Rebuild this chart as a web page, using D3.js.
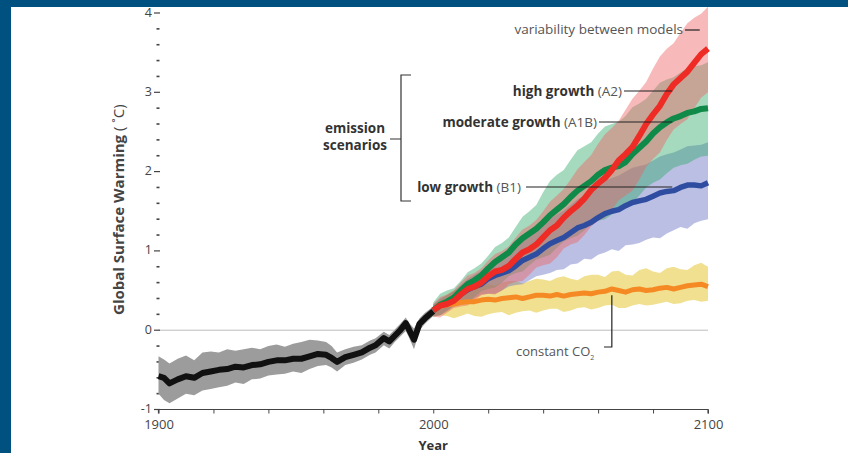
<!DOCTYPE html>
<html>
<head>
<meta charset="utf-8">
<script src="https://cdn.jsdelivr.net/npm/d3@7"></script>
<style>
    body { margin: 0; background: #fff; }
    text { font-family: "Open Sans", sans-serif; }
</style>
</head>
<body>
<div id="warming"></div>
<script>
// observed record 1900-2000
let histYears = [1900, 1902, 1904, 1907, 1910, 1913, 1916, 1919, 1922, 1925, 1928, 1931, 1934, 1937, 1940, 1943, 1946, 1949, 1952, 1955, 1958, 1961, 1963, 1965, 1968, 1971, 1974, 1977, 1979, 1982, 1984, 1986, 1988, 1990, 1991, 1993, 1995, 1997, 2000];
let histMean = [-0.58, -0.60, -0.67, -0.62, -0.58, -0.60, -0.54, -0.52, -0.50, -0.49, -0.46, -0.47, -0.44, -0.43, -0.40, -0.38, -0.38, -0.36, -0.36, -0.33, -0.30, -0.31, -0.35, -0.40, -0.34, -0.31, -0.28, -0.22, -0.19, -0.10, -0.14, -0.07, 0.00, 0.09, 0.02, -0.12, 0.08, 0.15, 0.24];
let histLo = [-0.80, -0.88, -0.92, -0.86, -0.80, -0.82, -0.76, -0.74, -0.72, -0.70, -0.66, -0.68, -0.62, -0.61, -0.57, -0.56, -0.55, -0.52, -0.54, -0.49, -0.45, -0.44, -0.47, -0.52, -0.44, -0.41, -0.37, -0.31, -0.28, -0.19, -0.23, -0.15, -0.08, -0.01, -0.08, -0.24, 0.00, 0.08, 0.18];
let histHi = [-0.33, -0.37, -0.42, -0.36, -0.32, -0.38, -0.28, -0.27, -0.28, -0.24, -0.26, -0.24, -0.22, -0.24, -0.20, -0.18, -0.21, -0.17, -0.15, -0.12, -0.13, -0.15, -0.20, -0.28, -0.24, -0.21, -0.19, -0.13, -0.10, -0.02, -0.06, 0.01, 0.08, 0.16, 0.10, 0.02, 0.15, 0.22, 0.30];

// scenario projections 2000-2100
let projYears = [2000, 2002.5, 2005, 2007.5, 2010, 2012.5, 2015, 2017.5, 2020, 2022.5, 2025, 2027.5, 2030, 2032.5, 2035, 2037.5, 2040, 2042.5, 2045, 2047.5, 2050, 2052.5, 2055, 2057.5, 2060, 2062.5, 2065, 2067.5, 2070, 2072.5, 2075, 2077.5, 2080, 2082.5, 2085, 2087.5, 2090, 2092.5, 2095, 2097.5, 2100];

let a2Mean = [0.25, 0.31, 0.33, 0.37, 0.45, 0.52, 0.55, 0.60, 0.68, 0.74, 0.76, 0.81, 0.90, 0.98, 1.02, 1.08, 1.17, 1.26, 1.32, 1.42, 1.50, 1.57, 1.66, 1.77, 1.85, 1.92, 2.02, 2.14, 2.22, 2.31, 2.45, 2.60, 2.72, 2.83, 2.98, 3.10, 3.18, 3.26, 3.37, 3.48, 3.55];
let a2Lo = [0.17, 0.16, 0.22, 0.28, 0.30, 0.31, 0.37, 0.44, 0.46, 0.45, 0.50, 0.58, 0.61, 0.62, 0.70, 0.79, 0.82, 0.84, 0.92, 1.03, 1.08, 1.11, 1.20, 1.31, 1.38, 1.42, 1.52, 1.64, 1.70, 1.76, 1.90, 2.06, 2.16, 2.24, 2.40, 2.53, 2.60, 2.66, 2.80, 2.93, 3.00];
let a2Hi = [0.33, 0.42, 0.45, 0.50, 0.60, 0.69, 0.72, 0.78, 0.88, 0.96, 1.00, 1.06, 1.17, 1.27, 1.32, 1.39, 1.50, 1.62, 1.70, 1.78, 1.90, 2.03, 2.12, 2.21, 2.35, 2.47, 2.55, 2.64, 2.78, 2.92, 3.02, 3.13, 3.30, 3.45, 3.55, 3.62, 3.75, 3.87, 3.94, 3.99, 4.08];

let a1bMean = [0.25, 0.32, 0.36, 0.41, 0.50, 0.58, 0.63, 0.69, 0.78, 0.86, 0.92, 0.98, 1.08, 1.16, 1.22, 1.28, 1.36, 1.45, 1.52, 1.59, 1.68, 1.76, 1.82, 1.88, 1.96, 2.02, 2.05, 2.07, 2.12, 2.22, 2.30, 2.38, 2.48, 2.56, 2.62, 2.67, 2.70, 2.74, 2.76, 2.79, 2.80];
let a1bLo = [0.17, 0.19, 0.24, 0.30, 0.33, 0.35, 0.42, 0.49, 0.52, 0.54, 0.60, 0.68, 0.72, 0.74, 0.82, 0.89, 0.92, 0.95, 1.04, 1.12, 1.16, 1.19, 1.26, 1.34, 1.38, 1.40, 1.46, 1.52, 1.55, 1.60, 1.70, 1.80, 1.86, 1.90, 1.98, 2.05, 2.08, 2.10, 2.15, 2.19, 2.20];
let a1bHi = [0.35, 0.46, 0.50, 0.53, 0.62, 0.73, 0.78, 0.84, 0.94, 1.05, 1.10, 1.17, 1.30, 1.43, 1.50, 1.58, 1.74, 1.88, 1.96, 2.02, 2.15, 2.27, 2.32, 2.37, 2.48, 2.57, 2.60, 2.63, 2.70, 2.81, 2.86, 2.92, 3.02, 3.12, 3.16, 3.19, 3.25, 3.31, 3.33, 3.34, 3.38];

let b1Mean = [0.25, 0.31, 0.34, 0.38, 0.45, 0.51, 0.55, 0.58, 0.65, 0.69, 0.72, 0.75, 0.81, 0.88, 0.92, 0.96, 1.03, 1.09, 1.13, 1.17, 1.23, 1.29, 1.32, 1.36, 1.42, 1.47, 1.50, 1.52, 1.57, 1.61, 1.63, 1.65, 1.69, 1.73, 1.75, 1.76, 1.80, 1.83, 1.83, 1.82, 1.86];
let b1Lo = [0.18, 0.19, 0.25, 0.31, 0.33, 0.34, 0.40, 0.45, 0.46, 0.46, 0.50, 0.55, 0.57, 0.58, 0.63, 0.68, 0.70, 0.72, 0.76, 0.77, 0.83, 0.84, 0.90, 0.89, 0.95, 0.98, 1.02, 1.00, 1.07, 1.08, 1.10, 1.14, 1.17, 1.16, 1.22, 1.26, 1.30, 1.28, 1.35, 1.38, 1.40];
let b1Hi = [0.32, 0.40, 0.44, 0.49, 0.57, 0.65, 0.70, 0.75, 0.83, 0.90, 0.95, 0.99, 1.06, 1.14, 1.20, 1.26, 1.34, 1.41, 1.46, 1.51, 1.58, 1.65, 1.70, 1.75, 1.82, 1.88, 1.92, 1.95, 2.00, 2.05, 2.07, 2.09, 2.14, 2.19, 2.22, 2.24, 2.28, 2.32, 2.33, 2.34, 2.37];

let co2Mean = [0.25, 0.30, 0.32, 0.33, 0.35, 0.36, 0.36, 0.38, 0.39, 0.38, 0.40, 0.41, 0.42, 0.40, 0.42, 0.44, 0.44, 0.43, 0.45, 0.43, 0.45, 0.46, 0.47, 0.46, 0.48, 0.49, 0.52, 0.50, 0.48, 0.51, 0.52, 0.50, 0.51, 0.53, 0.54, 0.52, 0.54, 0.56, 0.57, 0.58, 0.55];
let co2Lo = [0.17, 0.19, 0.18, 0.15, 0.18, 0.21, 0.18, 0.17, 0.20, 0.22, 0.23, 0.19, 0.22, 0.24, 0.25, 0.22, 0.25, 0.27, 0.27, 0.23, 0.25, 0.28, 0.29, 0.26, 0.28, 0.31, 0.32, 0.28, 0.28, 0.31, 0.33, 0.31, 0.32, 0.34, 0.36, 0.33, 0.34, 0.37, 0.38, 0.36, 0.37];
let co2Hi = [0.32, 0.38, 0.45, 0.50, 0.52, 0.50, 0.55, 0.57, 0.58, 0.56, 0.60, 0.62, 0.62, 0.59, 0.62, 0.65, 0.64, 0.62, 0.66, 0.68, 0.65, 0.63, 0.68, 0.70, 0.70, 0.67, 0.74, 0.75, 0.70, 0.69, 0.76, 0.78, 0.74, 0.72, 0.78, 0.80, 0.77, 0.76, 0.82, 0.85, 0.80];

let yearTicks = [1900, 1920, 1940, 1960, 1980, 2000, 2020, 2040, 2060, 2080, 2100];
let yearLabels = [1900, 2000, 2100];
let tempLabels = [-1, 0, 1, 2, 3, 4];

function renderWarming() {
    let width = 848, height = 453;

    let svg = d3.select("#warming")
        .append("svg")
        .attr("width", width)
        .attr("height", height);

    // blue frame
    svg.append("rect").attr("x", 0).attr("y", 0).attr("width", width).attr("height", 7).attr("fill", "#00517f");
    svg.append("rect").attr("x", 0).attr("y", 0).attr("width", 11).attr("height", height).attr("fill", "#00517f");

    let x = d3.scaleLinear()
        .domain([1900, 2100])
        .range([158.5, 708]);

    let y = d3.scaleLinear()
        .domain([-1, 4])
        .range([409.5, 13]);

    // zero line
    svg.append("line")
        .attr("x1", x(1900)).attr("x2", x(2100))
        .attr("y1", y(0)).attr("y2", y(0))
        .attr("stroke", "#bdbdbd").attr("stroke-width", 1);

    // x axis
    let xAxis = svg.append("g")
        .attr("transform", `translate(0, ${y(-1)})`)
        .call(d3.axisBottom(x)
            .tickValues(yearTicks)
            .tickSize(4)
            .tickFormat(d => yearLabels.includes(d) ? d : ""));
    xAxis.select(".domain")
        .attr("stroke", "#444").attr("stroke-width", 1.2)
        .attr("d", `M${x(1900)},4V0H${x(2100)}V4`);
    xAxis.selectAll(".tick line").attr("stroke", "#444");
    xAxis.selectAll(".tick text")
        .attr("y", 10.5)
        .style("font-size", "13px")
        .style("font-family", "Open Sans, sans-serif")
        .attr("fill", "#444");

    // y axis: labelled dashes, no axis line
    let minor = d3.range(-1, 4.001, 0.2).filter(v => Math.abs(v - Math.round(v)) > 0.01);
    svg.selectAll(".minor-tick")
        .data(minor)
        .enter()
        .append("line")
        .attr("class", "minor-tick")
        .attr("x1", 156.5).attr("x2", 159.5)
        .attr("y1", d => y(d)).attr("y2", d => y(d))
        .attr("stroke", "#444").attr("stroke-width", 1.6);
    svg.selectAll(".major-tick")
        .data(tempLabels)
        .enter()
        .append("line")
        .attr("class", "major-tick")
        .attr("x1", 154).attr("x2", 160)
        .attr("y1", d => y(d)).attr("y2", d => y(d))
        .attr("stroke", "#444").attr("stroke-width", 1.2);
    svg.selectAll(".tick-label")
        .data(tempLabels)
        .enter()
        .append("text")
        .attr("class", "tick-label")
        .attr("x", 152)
        .attr("y", d => y(d) + 3.5)
        .attr("text-anchor", "end")
        .attr("fill", "#444")
        .style("font-size", "12.5px")
        .text(d => d);

    // axis titles
    let yTitle = svg.append("text")
        .attr("transform", `translate(124, ${y(1.52)}) rotate(-90)`)
        .attr("text-anchor", "middle")
        .attr("fill", "#444")
        .style("font-size", "15px");
    yTitle.append("tspan").style("font-weight", "bold").text("Global Surface Warming");
    yTitle.append("tspan").text(" ( ˚C)");

    svg.append("text")
        .attr("x", x(2000))
        .attr("y", 450)
        .attr("text-anchor", "middle")
        .attr("fill", "#333")
        .style("font-size", "13px")
        .style("font-weight", "bold")
        .text("Year");

    // bands and lines
    let area = d3.area()
        .x(d => x(d.year))
        .y0(d => y(d.lo))
        .y1(d => y(d.hi));
    let line = d3.line()
        .x(d => x(d.year))
        .y(d => y(d.mean));

    function build(years, mean, lo, hi) {
        return years.map((yr, i) => ({year: yr, mean: mean[i], lo: lo[i], hi: hi[i]}));
    }

    let hist = build(histYears, histMean, histLo, histHi);
    let scenarios = [
        {name: "constant", data: build(projYears, co2Mean, co2Lo, co2Hi), band: "#eedb7c", bandOpacity: 0.85, color: "#f58a25", width: 5},
        {name: "B1", data: build(projYears, b1Mean, b1Lo, b1Hi), band: "#6872c2", bandOpacity: 0.45, color: "#2f4da0", width: 5.5},
        {name: "A1B", data: build(projYears, a1bMean, a1bLo, a1bHi), band: "#2aa866", bandOpacity: 0.42, color: "#0f8a48", width: 6},
        {name: "A2", data: build(projYears, a2Mean, a2Lo, a2Hi), band: "#ee6464", bandOpacity: 0.45, color: "#ee2b25", width: 6}
    ];

    svg.append("path")
        .attr("d", area(hist))
        .attr("fill", "#9c9c9c");

    svg.selectAll(".band")
        .data(scenarios)
        .enter()
        .append("path")
        .attr("class", "band")
        .attr("d", d => area(d.data))
        .attr("fill", d => d.band)
        .attr("fill-opacity", d => d.bandOpacity);

    svg.append("path")
        .attr("d", line(hist))
        .attr("fill", "none")
        .attr("stroke", "#111")
        .attr("stroke-width", 6)
        .attr("stroke-linejoin", "round");

    svg.selectAll(".scenario-line")
        .data(scenarios)
        .enter()
        .append("path")
        .attr("class", "scenario-line")
        .attr("d", d => line(d.data))
        .attr("fill", "none")
        .attr("stroke", d => d.color)
        .attr("stroke-width", d => d.width)
        .attr("stroke-linejoin", "round");

    // annotations
    function leader(x1, y1, x2, y2) {
        svg.append("line")
            .attr("x1", x1).attr("y1", y1)
            .attr("x2", x2).attr("y2", y2)
            .attr("stroke", "#222").attr("stroke-width", 1.2);
    }
    function label(xPos, yPos, bold, plain) {
        let t = svg.append("text")
            .attr("x", xPos).attr("y", yPos)
            .attr("text-anchor", "end")
            .style("font-size", "13.5px");
        if (bold) t.append("tspan").attr("fill", "#333").style("font-weight", "bold").text(bold + " ");
        t.append("tspan").attr("fill", "#555").text(plain);
    }

    label(683, 34, null, "variability between models");
    leader(685, 30, x(2097), 30);

    label(622, 96, "high growth", "(A2)");
    leader(624, 91, x(2087), 91);

    label(597, 127, "moderate growth", "(A1B)");
    leader(599, 122, x(2087), 122);

    label(521, 192, "low growth", "(B1)");
    leader(526, 187, x(2087), 187);

    // bracket
    svg.append("path")
        .attr("d", "M411,75H401V201H411M401,139H390")
        .attr("fill", "none")
        .attr("stroke", "#333")
        .attr("stroke-width", 1.2);
    let scen = svg.append("text")
        .attr("text-anchor", "middle")
        .attr("fill", "#333")
        .style("font-size", "13.5px")
        .style("font-weight", "bold");
    scen.append("tspan").attr("x", 355).attr("y", 133).text("emission");
    scen.append("tspan").attr("x", 355).attr("y", 150).text("scenarios");

    let co2 = svg.append("text")
        .attr("x", 516).attr("y", 356)
        .attr("fill", "#555")
        .style("font-size", "13px");
    co2.append("tspan").text("constant CO");
    co2.append("tspan").attr("dy", 4).style("font-size", "7px").text("2");
    svg.append("path")
        .attr("d", `M604,347H${x(2065)}V${y(0.44)}`)
        .attr("fill", "none")
        .attr("stroke", "#222")
        .attr("stroke-width", 1.2);
}

renderWarming();
</script>
</body>
</html>
